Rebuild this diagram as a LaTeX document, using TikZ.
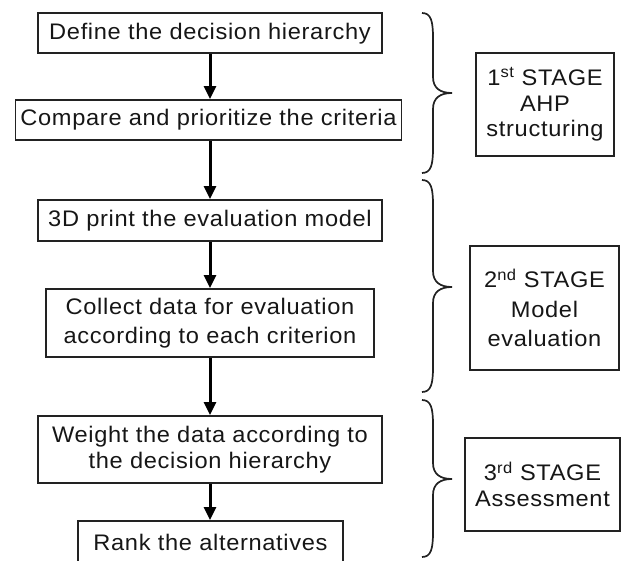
\documentclass[tikz,border=0pt]{standalone}
\usepackage{fontspec}
\setmainfont{Liberation Sans}[FakeStretch=1.05,LetterSpace=3]
\usetikzlibrary{arrows.meta}
\definecolor{textcol}{HTML}{161616}
\definecolor{linecol}{HTML}{222222}
\newcommand{\stagebrace}[3]{%
  \draw[bracestyle] (422,#1) .. controls (431,#1) and (433,#1+8) .. (433,#1+25)
    -- (433,#2-16) .. controls (433,#2-5) and (440,#2) .. (452,#2)
    .. controls (440,#2) and (433,#2+5) .. (433,#2+16)
    -- (433,#3-25) .. controls (433,#3-8) and (431,#3) .. (422,#3);}
\begin{document}
\begin{tikzpicture}[x=1pt,y=-1pt,
  stepbox/.style={draw=linecol, line width=1.9pt, inner sep=0pt, align=center,
    text=textcol, font=\fontsize{22.5}{26}\selectfont},
  stagebox/.style={draw=linecol, line width=1.9pt, inner sep=0pt, align=center,
    text=textcol, font=\fontsize{22.5}{26}\selectfont},
  arr/.style={draw=black, line width=3pt, -{Triangle[length=13pt,width=12pt]}},
  bracestyle/.style={draw=linecol, line width=1.7pt}]
\useasboundingbox (0,0) rectangle (623,561);
% process steps
\node[stepbox, minimum width=344pt, minimum height=40pt] (b1) at (210,33.3) {Define the decision hierarchy};
\node[stepbox, minimum width=386pt, minimum height=40pt] (b2) at (208.5,120) {Compare and prioritize the criteria};
\node[stepbox, minimum width=344pt, minimum height=41pt] (b3) at (210,220.5) {3D print the evaluation model};
\node[stepbox, minimum width=328pt, minimum height=68pt, font=\fontsize{22.5}{29}\selectfont] (b4) at (210,323) {Collect data for evaluation\\according to each criterion};
\node[stepbox, minimum width=344pt, minimum height=67pt, font=\fontsize{22.5}{25.5}\selectfont] (b5) at (210,449.5) {Weight the data according to\\the decision hierarchy};
\node[stepbox, minimum width=265pt, minimum height=42pt] (b6) at (210.5,542) {Rank the alternatives};
% arrows
\draw[arr] (b1.south) -- (b1.south |- b2.north);
\draw[arr] (b1.south |- b2.south) -- (b1.south |- b3.north);
\draw[arr] (b3.south) -- (b3.south |- b4.north);
\draw[arr] (b3.south |- b4.south) -- (b3.south |- b5.north);
\draw[arr] (b5.south) -- (b5.south |- b6.north);
% braces
\stagebrace{13}{93}{173}
\stagebrace{180}{287}{392}
\stagebrace{400}{479}{557}
% stage boxes
\node[stagebox, minimum width=138pt, minimum height=103pt, font=\fontsize{22.5}{25.5}\selectfont] (s1) at (545,104.5) {1\textsuperscript{st} STAGE\\AHP\\structuring};
\node[stagebox, minimum width=149pt, minimum height=124pt, font=\fontsize{22.5}{29.5}\selectfont] (s2) at (544.5,308) {2\textsuperscript{nd} STAGE\\Model\\evaluation};
\node[stagebox, minimum width=155pt, minimum height=93pt] (s3) at (542.5,484.5) {3\textsuperscript{rd} STAGE\\Assessment};
\end{tikzpicture}
\end{document}
